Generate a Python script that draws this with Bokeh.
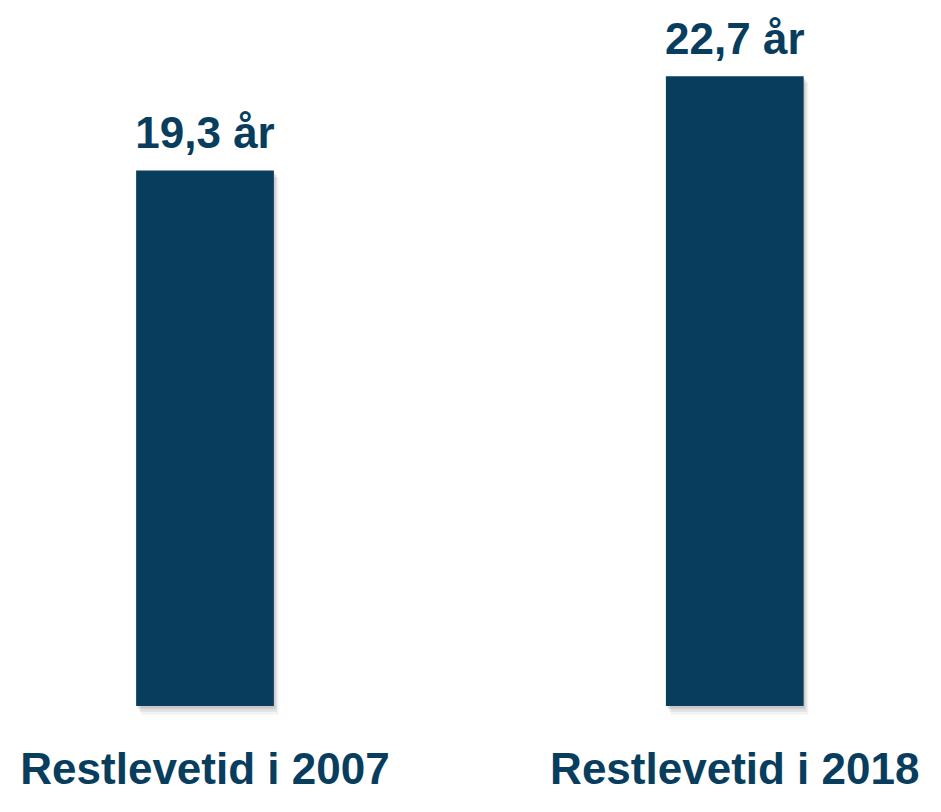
from bokeh.plotting import figure
from bokeh.models import Range1d, ColumnDataSource
from bokeh.core.properties import value
from bokeh.embed import file_html
from bokeh.resources import INLINE

categories = ["Restlevetid i 2007", "Restlevetid i 2018"]
values = [19.3, 22.7]
value_labels = ["19,3 år", "22,7 år"]

NAVY = "#083d5e"
FONT = "Liberation Sans"

xs = list(range(len(categories)))
src = ColumnDataSource(dict(x=xs, top=values, cat=categories, lab=value_labels))

p = figure(width=925, height=796, output_backend="svg", toolbar_location=None,
           x_range=Range1d(-0.386, 1.360), y_range=Range1d(-3.258, 25.427),
           min_border=0, outline_line_color=None)
p.axis.visible = False
p.grid.visible = False
p.background_fill_color = "white"
p.border_fill_color = "white"

# soft shadow
for i, a in enumerate([0.10, 0.07, 0.05]):
    d = 0.003 * (i + 1)
    p.vbar(x=[x + d for x in xs], top=[v - 0.08 * (i + 1) for v in values],
           bottom=-0.1 * (i + 1), width=0.26, fill_color="black", fill_alpha=a,
           line_color=None)

p.vbar(x="x", top="top", bottom=0, width=0.26, source=src,
       fill_color=NAVY, line_color=None)

p.text(x="x", y="top", text="lab", source=src, text_align="center",
       text_baseline="alphabetic", y_offset=-38,
       text_font=value(FONT), text_font_style="bold", text_font_size="44px",
       text_color=NAVY)

p.text(x="x", y=0, text="cat", source=src, text_align="center",
       text_baseline="alphabetic", y_offset=62,
       text_font=value(FONT), text_font_style="bold", text_font_size="44px",
       text_color=NAVY)

open("out.html", "w").write(file_html(p, INLINE))
